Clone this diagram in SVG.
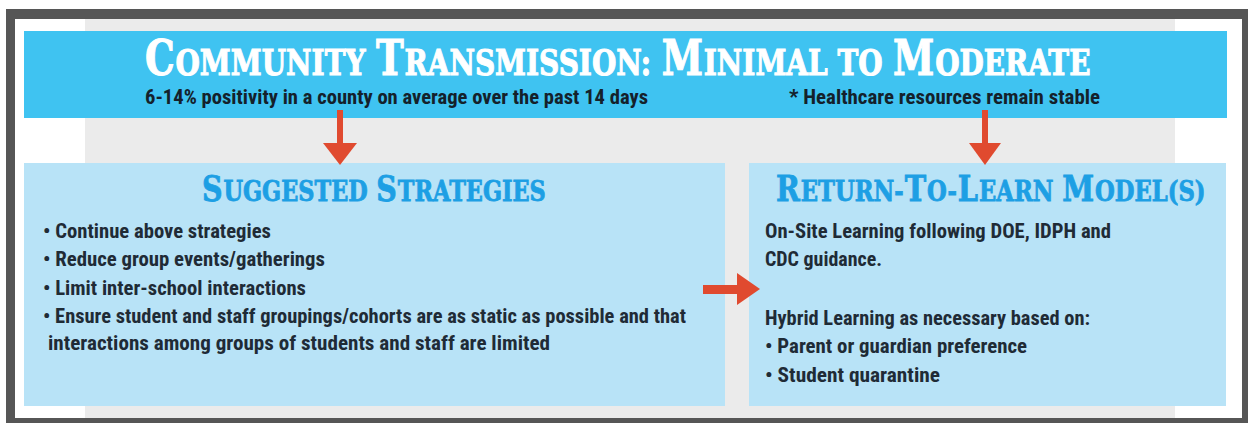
<svg xmlns="http://www.w3.org/2000/svg" width="1248" height="423" viewBox="0 0 1248 423">
  <style>
    .title { font-family: "DejaVu Serif", "Liberation Serif", serif; font-weight: bold; fill: #ffffff; stroke: #ffffff; stroke-width: 1; }
    .head { font-family: "DejaVu Serif", "Liberation Serif", serif; font-weight: bold; fill: #1d9fe4; stroke: #1d9fe4; stroke-width: 0.8; }
    .body { font-family: "Liberation Sans Narrow", "Roboto Condensed", "DejaVu Sans Condensed", "Liberation Sans", sans-serif; font-weight: bold; font-size: 20px; fill: #1f2b36; }
    .sub { font-family: "Liberation Sans Narrow", "Roboto Condensed", "DejaVu Sans Condensed", "Liberation Sans", sans-serif; font-weight: bold; font-size: 20px; fill: #14212b; }
    .arrow { fill: #e04a2f; }
  </style>

  <!-- frame and background -->
  <rect x="6" y="9" width="1242" height="414" fill="#565656"/>
  <rect x="15" y="19" width="1227" height="399" fill="#ffffff"/>
  <rect x="85" y="19" width="1090" height="399" fill="#ebebeb"/>

  <g id="header">
    <rect x="24" y="31" width="1203" height="87" fill="#3fc3f1"/>
    <g transform="translate(145,75) scale(0.847,1.1)">
      <text class="title" x="0" y="0"><tspan font-size="44">C</tspan><tspan font-size="33" dx="1">OMMUNITY </tspan><tspan font-size="44" dx="1">T</tspan><tspan font-size="33" dx="1">RANSMISSION: </tspan><tspan font-size="44" dx="1">M</tspan><tspan font-size="33" dx="1">INIMAL TO </tspan><tspan font-size="44" dx="1">M</tspan><tspan font-size="33" dx="1">ODERATE</tspan></text>
    </g>
    <text class="sub" x="145" y="104" textLength="503" lengthAdjust="spacingAndGlyphs">6-14% positivity in a county on average over the past 14 days</text>
    <text class="sub" x="789" y="104" textLength="311" lengthAdjust="spacingAndGlyphs">* Healthcare resources remain stable</text>
  </g>

  <g id="strategies">
    <rect x="24" y="163" width="701" height="243" fill="#b8e3f7"/>
    <g transform="translate(202,201) scale(0.862,1.05)">
      <text class="head" x="0" y="0"><tspan font-size="33">S</tspan><tspan font-size="26" dx="1">UGGESTED </tspan><tspan font-size="33" dx="1">S</tspan><tspan font-size="26" dx="1">TRATEGIES</tspan></text>
    </g>
    <text class="body" x="43" y="238" textLength="228" lengthAdjust="spacingAndGlyphs">• Continue above strategies</text>
    <text class="body" x="43" y="266" textLength="282" lengthAdjust="spacingAndGlyphs">• Reduce group events/gatherings</text>
    <text class="body" x="43" y="295" textLength="263" lengthAdjust="spacingAndGlyphs">• Limit inter-school interactions</text>
    <text class="body" x="43" y="323" textLength="643" lengthAdjust="spacingAndGlyphs">• Ensure student and staff groupings/cohorts are as static as possible and that</text>
    <text class="body" x="48" y="350" textLength="502" lengthAdjust="spacingAndGlyphs">interactions among groups of students and staff are limited</text>
  </g>

  <g id="return-to-learn">
    <rect x="749" y="163" width="477" height="243" fill="#b8e3f7"/>
    <g transform="translate(776,201) scale(0.873,1.05)">
      <text class="head" x="0" y="0"><tspan font-size="33">R</tspan><tspan font-size="26" dx="1">ETURN-</tspan><tspan font-size="33" dx="1">T</tspan><tspan font-size="26" dx="1">O-</tspan><tspan font-size="33" dx="1">L</tspan><tspan font-size="26" dx="1">EARN </tspan><tspan font-size="33" dx="1">M</tspan><tspan font-size="26" dx="1">ODEL(S)</tspan></text>
    </g>
    <text class="body" x="765" y="238" textLength="346" lengthAdjust="spacingAndGlyphs">On-Site Learning following DOE, IDPH and</text>
    <text class="body" x="765" y="266" textLength="117" lengthAdjust="spacingAndGlyphs">CDC guidance.</text>
    <text class="body" x="765" y="325" textLength="325" lengthAdjust="spacingAndGlyphs">Hybrid Learning as necessary based on:</text>
    <text class="body" x="765" y="353" textLength="262" lengthAdjust="spacingAndGlyphs">• Parent or guardian preference</text>
    <text class="body" x="765" y="382" textLength="175" lengthAdjust="spacingAndGlyphs">• Student quarantine</text>
  </g>

  <g id="connectors">
    <rect class="arrow" x="337" y="110" width="6" height="34"/>
    <polygon class="arrow" points="323,143 357,143 340,165"/>
    <rect class="arrow" x="982" y="110" width="6" height="34"/>
    <polygon class="arrow" points="969,143 1001,143 985,165"/>
    <rect class="arrow" x="703" y="285" width="35" height="9"/>
    <polygon class="arrow" points="737,273 737,305 760,289"/>
  </g>
</svg>
